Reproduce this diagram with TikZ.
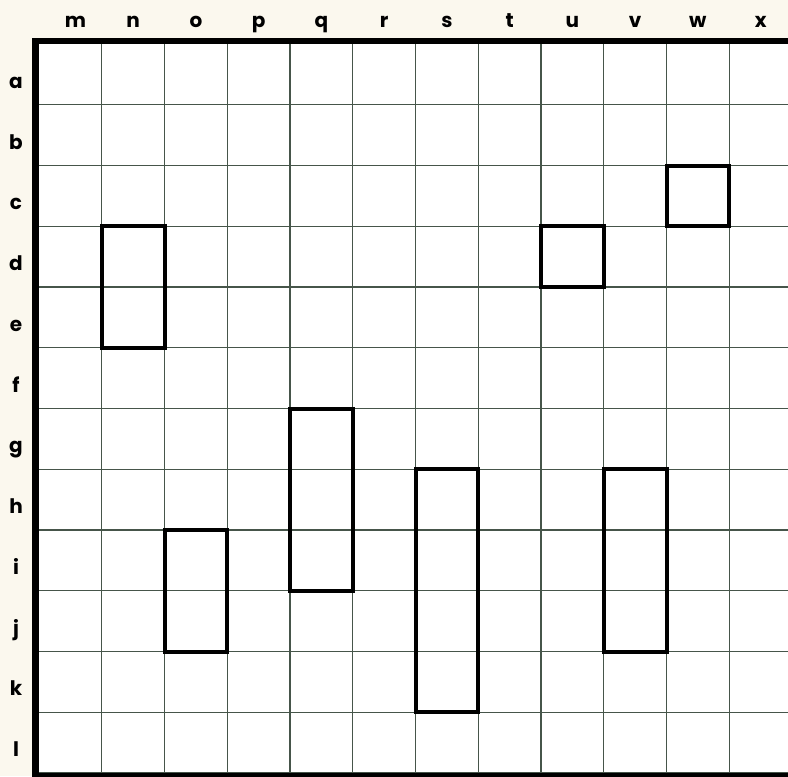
\documentclass[tikz,border=0pt]{standalone}
\usepackage{fontspec}
\setmainfont{Poppins}
\definecolor{paper}{HTML}{FBF8EE}
\definecolor{gridc}{HTML}{46554A}
\tikzset{
  gridline/.style={draw=gridc, line width=0.8pt},
  frame/.style={draw=black, line width=5.2pt},
  block/.style={draw=black, line width=3pt, line join=miter},
  lbl/.style={font=\fontsize{15}{15}\selectfont\bfseries, inner sep=0pt, anchor=base}
}
\begin{document}
\begin{tikzpicture}[x=0.75pt,y=-0.75pt]
\useasboundingbox (0,0) rectangle (788,776);
\fill[paper] (0,0) rectangle (788,776);
\def\Xo{39}\def\Yo{44}\def\cw{62.75}\def\rh{60.75}
\fill[white] (\Xo,\Yo) rectangle (800,790);
\begin{scope}
\clip (0,0) rectangle (788,776);
\foreach \k in {1,...,12} {
  \draw[gridline] ({\Xo+\k*\cw},\Yo) -- ({\Xo+\k*\cw},790);
  \draw[gridline] (\Xo,{\Yo+\k*\rh}) -- (800,{\Yo+\k*\rh});
}
\draw[frame] (35.5,41) rectangle (796,776.5);
% blocks: cols c1-c2, rows r1-r2 (line indices)
\foreach \ca/\cb/\ra/\rb in {1/2/3/5, 2/3/8/10, 4/5/6/9, 6/7/7/11, 8/9/3/4, 9/10/7/10, 10/11/2/3} {
  \draw[block] ({\Xo+\ca*\cw},{\Yo+\ra*\rh}) rectangle ({\Xo+\cb*\cw},{\Yo+\rb*\rh});
}
\end{scope}
% column labels
\foreach \l [count=\i from 0] in {m,n,o,p,q,r,s,t,u,v,w,x} {
  \node[lbl] (col\l) at ({\Xo+(\i+0.5)*\cw+(\i==0?5:0)},27) {\l};
}
% row labels
\foreach \l [count=\i from 0] in {a,b,c,d,e,f,g,h,i,j,k,l} {
  \node[lbl] (row\l) at (16,{\Yo+(\i+0.5)*\rh+14}) {\l};
}
\end{tikzpicture}
\end{document}
